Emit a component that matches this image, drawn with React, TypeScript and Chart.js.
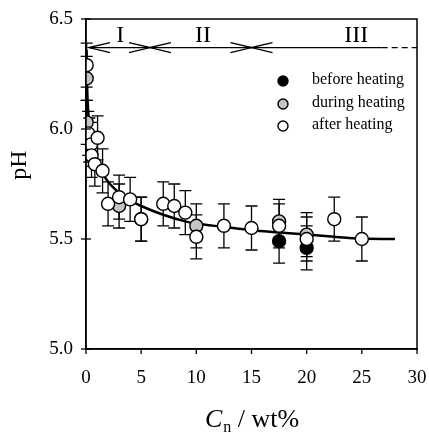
import React, { useEffect, useRef } from "react";
import { Chart, registerables } from "chart.js";
Chart.register(...registerables);

// ---- data ----
const afterX = [0.06, 0.2, 0.45, 0.5, 0.8, 1.05, 1.5, 2.0, 3.0, 4.0, 5.0, 7.0, 8.0, 9.0, 10.0, 12.5, 15.0, 17.5, 20.0, 22.5, 25.0];
const afterY = [6.29, 5.98, 5.93, 5.88, 5.84, 5.96, 5.81, 5.66, 5.69, 5.68, 5.59, 5.66, 5.65, 5.62, 5.51, 5.56, 5.55, 5.56, 5.5, 5.59, 5.5];
const afterErr = [0.1, 0.1, 0.1, 0.1, 0.1, 0.1, 0.1, 0.1, 0.1, 0.1, 0.1, 0.1, 0.1, 0.1, 0.1, 0.1, 0.1, 0.1, 0.1, 0.1, 0.1];

const duringX = [0.06, 0.06, 3.0, 10.0, 17.5, 20.0];
const duringY = [6.23, 6.03, 5.65, 5.56, 5.58, 5.52];
const duringErr = [0.1, 0.1, 0.1, 0.1, 0.1, 0.1];

const beforeX = [0.3, 5.0, 17.5, 20.0];
const beforeY = [5.95, 5.59, 5.49, 5.46];
const beforeErr = [0.1, 0.1, 0.1, 0.1];

const fitX = [0.05, 0.1, 0.2, 0.5, 1.0, 1.5, 2.0, 3.0, 4.0, 5.0, 7.0, 9.0, 10.0, 12.5, 15.0, 17.5, 20.0, 22.5, 25.0, 28.0];
const fitY = [6.36, 6.2, 6.08, 5.95, 5.86, 5.8, 5.76, 5.71, 5.675, 5.65, 5.61, 5.58, 5.57, 5.555, 5.54, 5.53, 5.52, 5.51, 5.502, 5.5];

const xTicks = [0, 5, 10, 15, 20, 25, 30];
const yTicks = [5.0, 5.5, 6.0, 6.5];

const regionNames = ["I", "II", "III"];
const regionBounds = [0, 5.8, 15, 30];
const regionLabelX = [3.1, 10.6, 24.5];
const regionY = 6.37;
const regionSolidEnd = 26.8;

const legendLabels = ["before heating", "during heating", "after heating"];

const SERIF = "'Liberation Serif', 'Times New Roman', serif";

const pts = (xs: number[], ys: number[]) => xs.map((x, i) => ({ x, y: ys[i] }));

const errorBarPlugin = {
  id: "errorBars",
  beforeDatasetsDraw(chart: any) {
    const ctx = chart.ctx;
    const xs = chart.scales.x;
    const ys = chart.scales.y;
    ctx.save();
    ctx.strokeStyle = "#000";
    ctx.lineWidth = 1.3;
    chart.data.datasets.forEach((ds: any) => {
      if (!ds.err) return;
      ds.data.forEach((p: any, i: number) => {
        const e = ds.err[i];
        const px = xs.getPixelForValue(p.x);
        const top = ys.getPixelForValue(p.y + e);
        const bot = ys.getPixelForValue(p.y - e);
        ctx.beginPath();
        ctx.moveTo(px, top);
        ctx.lineTo(px, bot);
        ctx.moveTo(px - 6, top);
        ctx.lineTo(px + 6, top);
        ctx.moveTo(px - 6, bot);
        ctx.lineTo(px + 6, bot);
        ctx.stroke();
      });
    });
    ctx.restore();
  },
};

function drawMarker(ctx: any, x: number, y: number, r: number, kind: number) {
  ctx.beginPath();
  ctx.arc(x, y, r, 0, Math.PI * 2);
  ctx.fillStyle = kind === 0 ? "#000" : kind === 1 ? "#c4c4c4" : "#fff";
  ctx.fill();
  ctx.lineWidth = 1.4;
  ctx.strokeStyle = "#000";
  ctx.stroke();
}

const decorPlugin = {
  id: "decor",
  afterDraw(chart: any) {
    const ctx = chart.ctx;
    const xs = chart.scales.x;
    const ys = chart.scales.y;
    const a = chart.chartArea;
    ctx.save();
    ctx.strokeStyle = "#000";
    ctx.fillStyle = "#000";
    // frame
    ctx.lineWidth = 1.5;
    ctx.strokeRect(a.left, a.top, a.right - a.left, a.bottom - a.top);
    // ticks + tick labels
    ctx.lineWidth = 1.3;
    ctx.font = `19px ${SERIF}`;
    ctx.textAlign = "center";
    ctx.textBaseline = "alphabetic";
    xTicks.forEach((t) => {
      const px = xs.getPixelForValue(t);
      ctx.beginPath();
      ctx.moveTo(px, a.bottom);
      ctx.lineTo(px, a.bottom + 5);
      ctx.stroke();
      ctx.fillText(String(t), px, a.bottom + 34);
    });
    ctx.textAlign = "right";
    ctx.textBaseline = "middle";
    yTicks.forEach((t) => {
      const py = ys.getPixelForValue(t);
      ctx.beginPath();
      ctx.moveTo(a.left - 5, py);
      ctx.lineTo(a.left + 5, py);
      ctx.stroke();
      ctx.fillText(t.toFixed(1), a.left - 13, py);
    });
    // region arrows
    const ry = ys.getPixelForValue(regionY);
    ctx.lineWidth = 1.4;
    const solidEnd = xs.getPixelForValue(regionSolidEnd);
    ctx.beginPath();
    ctx.moveTo(xs.getPixelForValue(regionBounds[0]) + 3, ry);
    ctx.lineTo(solidEnd, ry);
    ctx.stroke();
    ctx.save();
    ctx.setLineDash([6, 4]);
    ctx.beginPath();
    ctx.moveTo(solidEnd, ry);
    ctx.lineTo(xs.getPixelForValue(regionBounds[3]), ry);
    ctx.stroke();
    ctx.restore();
    const head = (tip: number, dir: number) => {
      ctx.beginPath();
      ctx.moveTo(tip + dir * 21, ry - 5);
      ctx.lineTo(tip, ry);
      ctx.lineTo(tip + dir * 21, ry + 5);
      ctx.stroke();
    };
    for (let i = 0; i < 3; i++) {
      const l = xs.getPixelForValue(regionBounds[i]) + (i === 0 ? 3 : 0);
      head(l, 1);
      if (i < 2) head(xs.getPixelForValue(regionBounds[i + 1]), -1);
    }
    ctx.font = `24px ${SERIF}`;
    ctx.textAlign = "center";
    ctx.textBaseline = "alphabetic";
    regionNames.forEach((n, i) => {
      ctx.fillText(n, xs.getPixelForValue(regionLabelX[i]), ry - 6);
    });
    // legend
    const lx = 283;
    const lys = [81, 104, 126];
    ctx.font = `16px ${SERIF}`;
    ctx.textAlign = "left";
    ctx.textBaseline = "middle";
    legendLabels.forEach((lab, i) => {
      drawMarker(ctx, lx, lys[i], 5, i);
      ctx.fillStyle = "#000";
      ctx.fillText(lab, 312, lys[i] - 1);
    });
    // y title
    ctx.save();
    ctx.translate(20, 165);
    ctx.rotate(-Math.PI / 2);
    ctx.font = `24px ${SERIF}`;
    ctx.textAlign = "center";
    ctx.textBaseline = "middle";
    ctx.fillText("pH", 0, 0);
    ctx.restore();
    // x title: C_n / wt%
    const fs = 26;
    ctx.textBaseline = "alphabetic";
    ctx.textAlign = "left";
    const partC = "C";
    const partN = "n";
    const partRest = " / wt%";
    const subFs = Math.round(fs * 0.62);
    ctx.font = `italic ${fs}px ${SERIF}`;
    const wC = ctx.measureText(partC).width;
    ctx.font = `${subFs}px ${SERIF}`;
    const wN = ctx.measureText(partN).width;
    ctx.font = `${fs}px ${SERIF}`;
    const wR = ctx.measureText(partRest).width;
    const total = wC + wN + wR + 1;
    let x0 = 252 - total / 2;
    const base = 427;
    ctx.font = `italic ${fs}px ${SERIF}`;
    ctx.fillText(partC, x0, base);
    x0 += wC + 1;
    ctx.font = `${subFs}px ${SERIF}`;
    ctx.fillText(partN, x0, base + 5);
    x0 += wN;
    ctx.font = `${fs}px ${SERIF}`;
    ctx.fillText(partRest, x0, base);
    ctx.restore();
  },
};

export default function App() {
  const ref = useRef<HTMLCanvasElement | null>(null);
  useEffect(() => {
    if (!ref.current) return;
    const markerCommon = {
      type: "scatter" as const,
      pointRadius: 6.5,
      pointHoverRadius: 6.5,
      pointBorderColor: "#000",
      pointBorderWidth: 1.4,
      showLine: false,
    };
    const chart = new Chart(ref.current, {
      type: "scatter",
      data: {
        datasets: [
          {
            ...markerCommon,
            label: "after heating",
            data: pts(afterX, afterY),
            err: afterErr,
            pointBackgroundColor: "#fff",
            order: 1,
          } as any,
          {
            ...markerCommon,
            label: "during heating",
            data: pts(duringX, duringY),
            err: duringErr,
            pointBackgroundColor: "#c4c4c4",
            order: 2,
          } as any,
          {
            ...markerCommon,
            label: "before heating",
            data: pts(beforeX, beforeY),
            err: beforeErr,
            pointBackgroundColor: "#000",
            order: 3,
          } as any,
          {
            type: "line",
            label: "fit",
            data: pts(fitX, fitY),
            borderColor: "#000",
            borderWidth: 2.5,
            pointRadius: 0,
            cubicInterpolationMode: "monotone",
            fill: false,
            order: 10,
          } as any,
        ],
      },
      options: {
        animation: false,
        responsive: false,
        events: [],
        layout: { padding: { top: 19, right: 12, left: 0, bottom: 0 } },
        plugins: { legend: { display: false }, tooltip: { enabled: false } },
        scales: {
          x: {
            type: "linear",
            min: 0,
            max: 30,
            grid: { display: false },
            border: { display: true, color: "#000", width: 1.5 },
            ticks: { display: false, stepSize: 5 },
            afterFit: (s: any) => {
              s.height = 84;
            },
          },
          y: {
            type: "linear",
            min: 5,
            max: 6.5,
            grid: { display: false },
            border: { display: true, color: "#000", width: 1.5 },
            ticks: { display: false, stepSize: 0.5 },
            afterFit: (s: any) => {
              s.width = 86;
            },
          },
        },
      } as any,
      plugins: [errorBarPlugin, decorPlugin],
    });
    return () => chart.destroy();
  }, []);
  return (
    <div style={{ position: "fixed", left: 0, top: 0, width: 429, height: 433, background: "#fff" }}>
      <canvas ref={ref} width={429} height={433} style={{ display: "block" }} />
    </div>
  );
}
